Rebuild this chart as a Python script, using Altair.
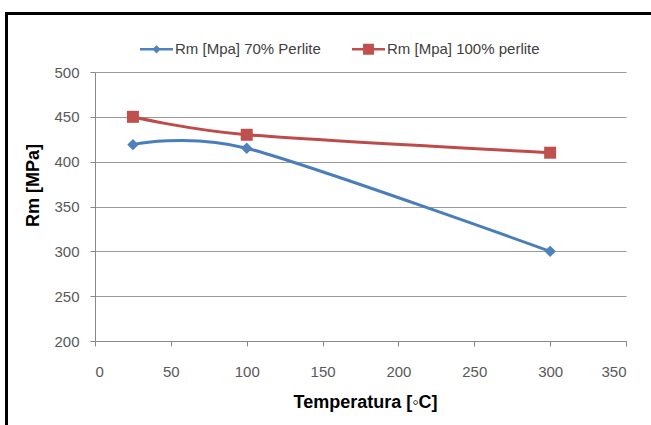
import altair as alt
import pandas as pd

temps = [25, 100, 300]
series_a = "Rm [Mpa] 70% Perlite"
series_b = "Rm [Mpa] 100% perlite"
vals_a = [419, 415, 300]
vals_b = [450, 430, 410]

x_ticks = [0, 50, 100, 150, 200, 250, 300, 350]
y_ticks = [200, 250, 300, 350, 400, 450, 500]

blue_line = "#4A7EBB"
red_line = "#BE4B48"
blue_mk = "#4F81BD"
red_mk = "#C0504D"

df = pd.DataFrame({
    "temp": temps + temps,
    "rm": vals_a + vals_b,
    "series": [series_a] * len(temps) + [series_b] * len(temps),
})

FONT = "Liberation Sans"
DOM = [series_a, series_b]

bar = "M-1,-0.08L1,-0.08L1,0.08L-1,0.08Z"
path_a = bar + "M0,-0.25L0.25,0L0,0.25L-0.25,0Z"
path_b = bar + "M-0.33,-0.33L0.33,-0.33L0.33,0.33L-0.33,0.33Z"

x_enc = alt.X(
    "temp:Q",
    scale=alt.Scale(domain=[0, 350], nice=False),
    axis=alt.Axis(
        values=x_ticks, grid=False, title="Temperatura [◦C]",
        titleFont=FONT, titleFontSize=18, titleFontWeight="bold", titleColor="#000000",
        titleX=270, titleY=66, titleBaseline="alphabetic", titleAlign="center",
        labelFont=FONT, labelFontSize=15, labelColor="#595959", labelPadding=18,
        tickSize=5, tickColor="#888888", domainColor="#888888",
    ),
)
y_enc = alt.Y(
    "rm:Q",
    scale=alt.Scale(domain=[200, 500], nice=False, zero=False),
    axis=alt.Axis(
        values=y_ticks, grid=True, gridColor="#999999", title="Rm [MPa]",
        titleFont=FONT, titleFontSize=18, titleFontWeight="bold", titleColor="#000000",
        titleX=-62, titleY=113, titleAngle=270, titleAlign="center", titleBaseline="middle",
        labelFont=FONT, labelFontSize=15, labelColor="#595959", labelPadding=11,
        tickSize=5, tickColor="#888888", domainColor="#888888",
    ),
)

lines = alt.Chart(df).mark_line(interpolate="cardinal", tension=0.15, strokeWidth=3).encode(
    x=x_enc, y=y_enc,
    color=alt.Color("series:N", scale=alt.Scale(domain=DOM, range=[blue_line, red_line]),
                    legend=None),
)

points = alt.Chart(df).mark_point(filled=True, opacity=1).encode(
    x=alt.X("temp:Q"),
    y=alt.Y("rm:Q"),
    color=alt.Color("series:N", scale=alt.Scale(domain=DOM, range=[blue_mk, red_mk]),
                    legend=None),
    shape=alt.Shape("series:N", scale=alt.Scale(domain=DOM, range=["diamond", "square"]),
                    legend=None),
    size=alt.Size("series:N", scale=alt.Scale(domain=DOM, range=[130, 144]),
                  legend=None),
)

leg = dict(
    orient="none", legendX=45, legendY=-39.5, direction="horizontal", title=None,
    symbolSize=1089, symbolStrokeWidth=0, labelFont=FONT, labelFontSize=15,
    labelColor="#404040", labelOffset=2, columnPadding=31, padding=0,
)

legend_layer = alt.Chart(df).transform_filter("false").mark_point(
    filled=True, opacity=1
).encode(
    color=alt.Color("series:N", scale=alt.Scale(domain=DOM, range=[blue_mk, red_mk]),
                    legend=alt.Legend(**leg)),
    shape=alt.Shape("series:N", scale=alt.Scale(domain=DOM, range=[path_a, path_b]),
                    legend=alt.Legend(**leg)),
)

frame_df = pd.DataFrame({"k": [0]})
frame_left = alt.Chart(frame_df).mark_rule(color="black", strokeWidth=3).encode(
    x=alt.value(-88.5), y=alt.value(-59.5), y2=alt.value(400)
)
frame_top = alt.Chart(frame_df).mark_rule(color="black", strokeWidth=3).encode(
    x=alt.value(-90), x2=alt.value(600), y=alt.value(-58.5)
)

chart = alt.layer(frame_left, frame_top, lines, points, legend_layer).resolve_scale(
    color="independent", shape="independent"
).properties(
    width=531,
    height=269,
    autosize=alt.AutoSizeParams(type="none"),
    padding={"left": 95, "top": 72, "right": 25, "bottom": 84},
    background="white",
).configure_view(stroke="transparent")

chart.save("out.html", embed_options={"renderer": "svg", "actions": False})
